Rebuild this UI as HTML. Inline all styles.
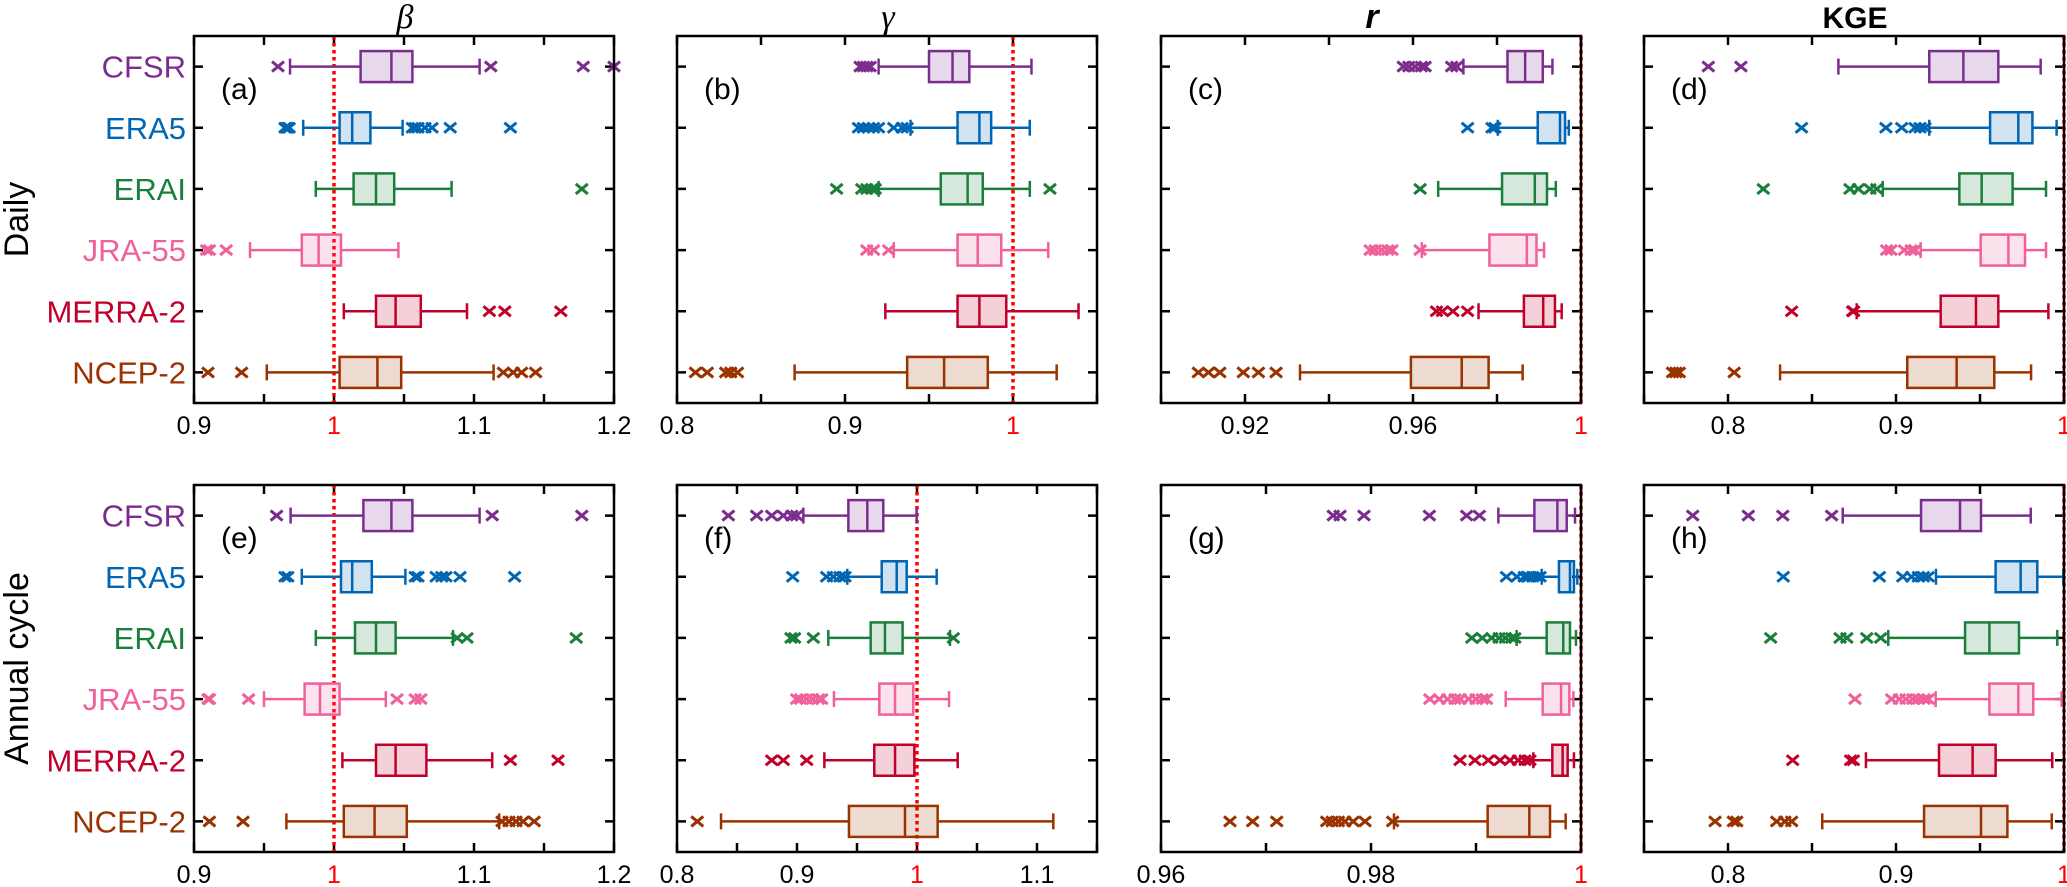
<!DOCTYPE html>
<html><head><meta charset="utf-8">
<style>
html,body{margin:0;padding:0;background:#fff;}
svg{display:block;font-family:"Liberation Sans",sans-serif;}
</style></head>
<body>
<svg id="chart" width="2067" height="887" viewBox="0 0 2067 887" xmlns="http://www.w3.org/2000/svg"></svg>
<script>
const categories = ["CFSR","ERA5","ERAI","JRA-55","MERRA-2","NCEP-2"];
const colors = ["#7B2D8E","#0066B3","#1A7F3A","#F0609A","#C0002A","#993300"];
const rowTitles = ["Daily","Annual cycle"];
const colTitles = ["β","γ","r","KGE"];
const panelLetters = ["(a)","(b)","(c)","(d)","(e)","(f)","(g)","(h)"];

// stats per dataset: [whiskerLow, q1, median, q3, whiskerHigh]
const statsA = [[0.9686,1.019,1.041,1.056,1.104],[0.978,1.004,1.013,1.026,1.049],[0.987,1.014,1.030,1.043,1.084],[0.940,0.977,0.989,1.005,1.046],[1.007,1.030,1.044,1.062,1.095],[0.952,1.004,1.031,1.048,1.114]];
const outA = [[0.960,1.112,1.178,1.2],[0.965,0.966,0.967,0.968,1.056,1.058,1.06,1.065,1.07,1.083,1.126],[1.177],[0.909,0.911,0.923],[1.111,1.122,1.162],[0.91,0.934,1.121,1.128,1.134,1.144]];
const statsB = [[0.920,0.950,0.964,0.974,1.011],[0.939,0.967,0.980,0.987,1.010],[0.920,0.957,0.973,0.982,1.010],[0.929,0.967,0.979,0.993,1.021],[0.924,0.967,0.980,0.996,1.039],[0.870,0.937,0.959,0.985,1.026]];
const outB = [[0.909,0.911,0.913,0.915],[0.908,0.911,0.914,0.917,0.92,0.929,0.934,0.937],[0.895,0.910,0.913,0.916,0.918,1.022],[0.913,0.917,0.926],[],[0.811,0.818,0.829,0.832,0.836]];
const statsC = [[0.9720,0.9825,0.9867,0.9909,0.9932],[0.9802,0.9897,0.9950,0.9962,0.9971],[0.9660,0.9812,0.9890,0.9919,0.9940],[0.9621,0.9782,0.9871,0.9894,0.9912],[0.9756,0.9864,0.9910,0.9938,0.9954],[0.9331,0.9595,0.9716,0.9780,0.9861]];
const outC = [[0.9577,0.959,0.9605,0.962,0.9629,0.9692,0.9704],[0.973,0.9788,0.9795],[0.9617],[0.9498,0.951,0.9525,0.954,0.955,0.9617],[0.9656,0.967,0.9695,0.973],[0.9089,0.9113,0.914,0.9196,0.9232,0.9274]];
const statsD = [[0.8657,0.9198,0.9401,0.9609,0.9861],[0.9198,0.9560,0.9728,0.9812,0.9956],[0.8921,0.9377,0.9510,0.9694,0.9893],[0.9147,0.9504,0.9669,0.9768,0.9893],[0.8766,0.9266,0.9476,0.9609,0.9907],[0.8310,0.9067,0.9361,0.9585,0.9804]];
const outD = [[0.7883,0.8077],[0.8438,0.894,0.9034,0.9113,0.9143,0.9173],[0.821,0.8726,0.8776,0.8845,0.8885],[0.8944,0.897,0.905,0.909,0.9113],[0.8379,0.8742,0.8748],[0.767,0.769,0.771,0.8037]];
const statsE = [[0.969,1.021,1.041,1.056,1.104],[0.977,1.005,1.013,1.027,1.051],[0.987,1.015,1.030,1.044,1.085],[0.950,0.979,0.990,1.004,1.037],[1.006,1.030,1.044,1.066,1.113],[0.966,1.007,1.029,1.052,1.118]];
const outE = [[0.959,1.113,1.177],[0.965,0.967,1.058,1.06,1.073,1.077,1.08,1.09,1.129],[1.088,1.095,1.173],[0.910,0.911,0.939,1.045,1.058,1.062],[1.126,1.160],[0.911,0.935,1.12,1.125,1.13,1.135,1.143]];
const statsF = [[0.9053,0.9428,0.9586,0.9719,0.9997],[0.9419,0.9706,0.9831,0.9914,1.0164],[0.9261,0.9614,0.9733,0.9880,1.0275],[0.9308,0.9686,0.9817,0.9969,1.0267],[0.9228,0.9644,0.9817,0.9978,1.0339],[0.8367,0.9433,0.9900,1.0172,1.1136]];
const outF = [[0.8428,0.8664,0.8789,0.8886,0.8956,0.8997],[0.8964,0.9247,0.9303,0.9358,0.94],[0.895,0.898,0.9136,1.0303],[0.8997,0.903,0.908,0.913,0.918,0.9206],[0.8789,0.8886,0.9081],[0.8169]];
const statsG = [[0.99213,0.99556,0.99775,0.99864,0.99943],[0.99626,0.99790,0.99895,0.99933,0.99965],[0.99387,0.99673,0.99831,0.99895,0.99952],[0.99283,0.99635,0.99810,0.99889,0.99927],[0.99546,0.99727,0.99825,0.99873,0.99933],[0.98219,0.99111,0.99508,0.99705,0.99854]];
const outG = [[0.97641,0.97705,0.97933,0.98556,0.98911,0.99032],[0.9929,0.9939,0.9946,0.995,0.9954,0.9958,0.9961],[0.9896,0.9906,0.9915,0.9922,0.9928,0.9934,0.9937],[0.9856,0.9865,0.9873,0.988,0.9885,0.9893,0.99,0.9906,0.991],[0.98848,0.9899,0.99117,0.99229,0.99324,0.99403,0.99467,0.99514],[0.96657,0.96873,0.97102,0.97578,0.9763,0.9769,0.9775,0.9783,0.97943,0.98206]];
const statsH = [[0.8683,0.9149,0.9381,0.9506,0.9802],[0.9238,0.9593,0.9742,0.9841,0.9996],[0.8954,0.9411,0.9556,0.9732,0.9960],[0.9236,0.9556,0.9728,0.9817,0.9986],[0.8821,0.9256,0.9456,0.9593,0.9930],[0.8561,0.9167,0.9506,0.9663,0.9927]];
const outH = [[0.779,0.8121,0.8326,0.8617],[0.8329,0.8901,0.904,0.9093,0.9133,0.9163,0.9192],[0.8254,0.8667,0.8707,0.8826,0.8909],[0.8756,0.8974,0.902,0.906,0.91,0.9133,0.9167,0.9192],[0.8385,0.873,0.8746],[0.7923,0.8032,0.8052,0.829,0.8339,0.8379]];

const domainsRow1 = [[0.9,1.2],[0.8,1.05],[0.9,1.0],[0.75,1.0]];
const domainsRow2 = [[0.9,1.2],[0.8,1.15],[0.96,1.0],[0.75,1.0]];
const ticksA = [0.9,0.95,1,1.05,1.1,1.15,1.2];
const tickLabelsA = ["0.9","","1","","1.1","","1.2"];
const ticksB = [0.8,0.85,0.9,0.95,1,1.05];
const tickLabelsB = ["0.8","","0.9","","1",""];
const ticksC = [0.9,0.92,0.94,0.96,0.98,1];
const tickLabelsC = ["","0.92","","0.96","","1"];
const ticksD = [0.75,0.8,0.85,0.9,0.95,1];
const tickLabelsD = ["","0.8","","0.9","","1"];
const ticksF = [0.8,0.85,0.9,0.95,1,1.05,1.1,1.15];
const tickLabelsF = ["0.8","","0.9","","1","","1.1",""];
const ticksG = [0.96,0.97,0.98,0.99,1];
const tickLabelsG = ["0.96","","0.98","","1"];

const NS = "http://www.w3.org/2000/svg";
const svg = document.getElementById("chart");
function mk(tag, attrs, parent){
  const e = document.createElementNS(NS, tag);
  for (const k in attrs) e.setAttribute(k, attrs[k]);
  (parent||svg).appendChild(e);
  return e;
}
const colX = [194, 677, 1161, 1644];
const W = 420;
const rowY = [36, 485];
const H = 367;
const bandH = H/6;

const panels = [
  {stats:statsA,out:outA,dom:domainsRow1[0],ticks:ticksA,labels:tickLabelsA,c:0,r:0},
  {stats:statsB,out:outB,dom:domainsRow1[1],ticks:ticksB,labels:tickLabelsB,c:1,r:0},
  {stats:statsC,out:outC,dom:domainsRow1[2],ticks:ticksC,labels:tickLabelsC,c:2,r:0},
  {stats:statsD,out:outD,dom:domainsRow1[3],ticks:ticksD,labels:tickLabelsD,c:3,r:0},
  {stats:statsE,out:outE,dom:domainsRow2[0],ticks:ticksA,labels:tickLabelsA,c:0,r:1},
  {stats:statsF,out:outF,dom:domainsRow2[1],ticks:ticksF,labels:tickLabelsF,c:1,r:1},
  {stats:statsG,out:outG,dom:domainsRow2[2],ticks:ticksG,labels:tickLabelsG,c:2,r:1},
  {stats:statsH,out:outH,dom:domainsRow2[3],ticks:ticksD,labels:tickLabelsD,c:3,r:1}
];

panels.forEach((p, pi) => {
  const x0 = colX[p.c], y0 = rowY[p.r];
  const sx = v => x0 + (v - p.dom[0]) / (p.dom[1] - p.dom[0]) * W;
  const sy = i => y0 + bandH*(i+0.5);
  const g = mk("g", {});
  
  
  // ticks
  p.ticks.forEach((t, ti) => {
    const x = sx(t);
    const tk = mk("path", {d:`M${x},${y0}v9M${x},${y0+H}v-9`, stroke:"#000","stroke-width":2.5}, g);
    
    
    if (p.labels[ti]) {
      const lb = mk("text", {x:x, y:y0+H+31, "text-anchor":"middle","font-size":25, fill: t===1 ? "#f00" : "#000"}, g);
      lb.textContent = p.labels[ti];
      
      
    }
  });
  // y ticks
  categories.forEach((c, i) => {
    const y = sy(i);
    const yt = mk("path", {d:`M${x0},${y}h9M${x0+W},${y}h-9`, stroke:"#000","stroke-width":2.5}, g);
    
    
  });
  // reference line at 1
  const rx = sx(1);
  const rl = mk("line", {x1:rx, x2:rx, y1:y0, y2:y0+H, stroke:"#f00","stroke-width":3.5,"stroke-dasharray":"3.5 3.5"}, g);
  
  
  // boxes
  categories.forEach((c, i) => {
    const s = p.stats[i], col = colors[i], y = sy(i);
    const bg = mk("g", {}, g);
    
    
    mk("line", {x1:sx(s[0]), x2:sx(s[1]), y1:y, y2:y, stroke:col,"stroke-width":2.5}, bg);
    mk("line", {x1:sx(s[3]), x2:sx(s[4]), y1:y, y2:y, stroke:col,"stroke-width":2.5}, bg);
    mk("line", {x1:sx(s[0]), x2:sx(s[0]), y1:y-8, y2:y+8, stroke:col,"stroke-width":2.5}, bg);
    mk("line", {x1:sx(s[4]), x2:sx(s[4]), y1:y-8, y2:y+8, stroke:col,"stroke-width":2.5}, bg);
    mk("rect", {x:sx(s[1]), y:y-15.5, width:sx(s[3])-sx(s[1]), height:31, fill:col,"fill-opacity":0.18, stroke:col,"stroke-width":2.5}, bg);
    mk("line", {x1:sx(s[2]), x2:sx(s[2]), y1:y-15.5, y2:y+15.5, stroke:col,"stroke-width":2.5}, bg);
    p.out[i].forEach(v => {
      const ox = sx(v);
      const o = mk("path", {d:`M${ox-6},${y-5}L${ox+6},${y+5}M${ox-6},${y+5}L${ox+6},${y-5}`, stroke:col,"stroke-width":3}, bg);
      
      
    });
  });
  // frame
  const fr = mk("rect", {x:x0, y:y0, width:W, height:H, fill:"none", stroke:"#000","stroke-width":2.5}, g);
  
  
  const pl = mk("text", {x:x0+27, y:y0+63, "font-size":30}, g);
  pl.textContent = panelLetters[pi];
  
  
  // category labels
  if (p.c === 0) {
    categories.forEach((c, i) => {
      const t = mk("text", {x:186, y:sy(i)+11, "text-anchor":"end","font-size":31, fill:colors[i]});
      t.textContent = c;
      
      
    });
  }
});

// column titles
const titleX = [405, 888, 1372, 1855];
colTitles.forEach((t, i) => {
  const attrs = {x:titleX[i], y:28, "text-anchor":"middle","font-size":34};
  if (i < 2) { attrs["font-style"] = "italic"; attrs["font-family"] = "Liberation Serif, serif"; }
  if (i === 2) { attrs["font-style"] = "italic"; attrs["font-weight"] = "bold"; }
  if (i === 3) { attrs["font-weight"] = "bold"; attrs["font-size"] = 30; }
  const e = mk("text", attrs);
  e.textContent = t;
  
  
});
// row titles
rowTitles.forEach((t, i) => {
  const cy = rowY[i] + H/2;
  const e = mk("text", {x:0, y:0, "text-anchor":"middle","font-size":34, transform:`translate(28,${cy}) rotate(-90)`});
  e.textContent = t;
  
  
});
</script>
</body></html>
